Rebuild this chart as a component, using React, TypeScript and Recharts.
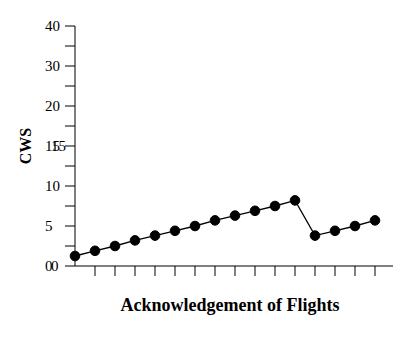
import { LineChart, Line, XAxis, YAxis, Label } from "recharts";

// flight number (x) and CWS value
const flights = [1, 2, 3, 4, 5, 6, 7, 8, 9, 10, 11, 12, 13, 14, 15, 16];
const cws = [1.25, 1.9, 2.5, 3.2, 3.8, 4.4, 5.0, 5.7, 6.3, 6.9, 7.5, 8.2, 3.8, 4.4, 5.0, 5.7];

const xTicks = [2, 3, 4, 5, 6, 7, 8, 9, 10, 11, 12, 13, 14, 15, 16];
const yTicks = [0, 2.5, 5, 7.5, 10, 12.5, 15, 17.5, 20, 22.5, 25, 27.5, 30];
// the source axis prints these labels (upper part is compressed)
const yTickLabels = ["0", "", "5", "", "10", "", "15", "", "20", "", "30", "", "40"];
// a second label set drawn on top, slightly shifted
const yOverlapLabels = ["0", "", "", "", "", "", "15", "", "", "", "", "", ""];

const data = flights.map((f, i) => ({ flight: f, cws: cws[i] }));

const FONT = "'Liberation Serif', 'Times New Roman', serif";

const YTick = (props: any) => {
  const { y, payload } = props;
  const i = yTicks.indexOf(payload.value);
  const main = yTickLabels[i];
  const extra = yOverlapLabels[i];
  return (
    <g>
      {main && (
        <text x={37} y={y} dy={5} fontSize={15} fontFamily={FONT} fill="#000">
          {main}
        </text>
      )}
      {extra && (
        <text x={43} y={y} dy={5} fontSize={15} fontFamily={FONT} fill="#000">
          {extra}
        </text>
      )}
    </g>
  );
};

const EmptyTick = () => <g />;

const YTitle = () => (
  <text
    x={17}
    y={138}
    transform="rotate(-90, 17, 138)"
    textAnchor="middle"
    dominantBaseline="central"
    fontSize={16}
    fontWeight="bold"
    fontFamily={FONT}
    fill="#000"
  >
    CWS
  </text>
);

const XTitle = () => (
  <text
    x={222}
    y={303}
    textAnchor="middle"
    fontSize={18}
    fontWeight="bold"
    fontFamily={FONT}
    fill="#000"
  >
    Acknowledgement of Flights
  </text>
);

export default function App() {
  return (
    <div style={{ width: 404, height: 353 }}>
      <LineChart
        width={404}
        height={353}
        data={data}
        margin={{ top: 18, right: 19, bottom: 35, left: 0 }}
      >
        <XAxis
          type="number"
          dataKey="flight"
          domain={[1, 16.9]}
          ticks={xTicks}
          interval={0}
          tick={<EmptyTick />}
          tickSize={10}
          height={60}
          axisLine={{ stroke: "#000" }}
          tickLine={{ stroke: "#000" }}
        >
          <Label content={<XTitle />} />
        </XAxis>
        <YAxis
          type="number"
          domain={[0, 30]}
          ticks={yTicks}
          interval={0}
          width={67}
          tickSize={10}
          tick={<YTick />}
          axisLine={{ stroke: "#000" }}
          tickLine={{ stroke: "#000" }}
        >
          <Label content={<YTitle />} />
        </YAxis>
        <Line
          type="linear"
          dataKey="cws"
          stroke="#000"
          strokeWidth={1.3}
          dot={{ r: 4.8, fill: "#000", stroke: "#000", strokeWidth: 1 }}
          isAnimationActive={false}
        />
      </LineChart>
    </div>
  );
}
